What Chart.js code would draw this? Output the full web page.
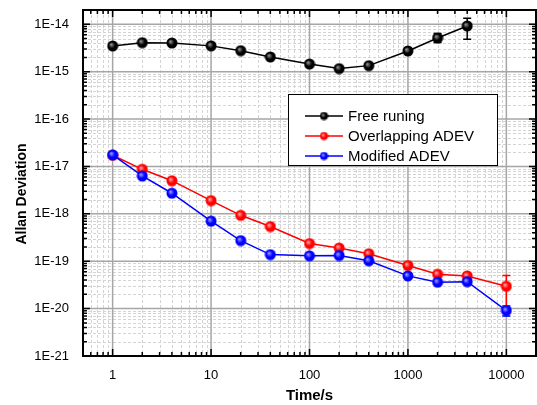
<!DOCTYPE html>
<html>
<head>
  <meta charset="UTF-8">
  <title>Allan Deviation</title>
  <script src="https://cdn.jsdelivr.net/npm/chart.js"></script>
  <style>
    html, body { margin: 0; padding: 0; background: #fff; }
    #wrap { width: 537px; height: 405px; }
  </style>
</head>
<body>
  <div id="wrap"><canvas id="adev" width="537" height="405"></canvas></div>

  <script>
    // averaging times (s)
    const taus = [1, 2, 4, 10, 20, 40, 100, 200, 400, 1000, 2000, 4000, 10000];

    // series values
    const freeRun     = [3.48e-15, 4.09e-15, 4.02e-15, 3.5e-15, 2.77e-15, 2.04e-15, 1.45e-15, 1.16e-15, 1.34e-15, 2.73e-15, 5.14e-15, 9.2e-15, null];
    const overlapping = [1.72e-17, 8.7e-18, 5.0e-18, 1.9e-18, 9.3e-19, 5.4e-19, 2.36e-19, 1.9e-19, 1.44e-19, 8.1e-20, 5.3e-20, 4.9e-20, 2.96e-20];
    const modified    = [1.75e-17, 6.3e-18, 2.72e-18, 7.0e-19, 2.72e-19, 1.38e-19, 1.3e-19, 1.32e-19, 1.02e-19, 4.9e-20, 3.6e-20, 3.7e-20, 9.1e-21];

    // error bars (only the ones wider than the marker)
    const freeErrLo = [null, null, null, null, null, null, null, null, null, null, 4.1e-15, 4.8e-15, null];
    const freeErrHi = [null, null, null, null, null, null, null, null, null, null, 6.4e-15, 1.34e-14, null];
    const overErrLo = [null, null, null, null, null, null, null, null, null, null, null, 4.3e-20, 1.0e-20];
    const overErrHi = [null, null, null, null, null, null, null, null, null, null, null, 5.6e-20, 5.0e-20];
    const modErrLo  = [null, null, null, null, null, null, null, null, null, null, null, null, 7.0e-21];
    const modErrHi  = [null, null, null, null, null, null, null, null, null, null, null, null, 1.13e-20];

    // tick labels
    const xTickValues = [1, 10, 100, 1000, 10000];
    const xTickLabels = ['1', '10', '100', '1000', '10000'];
    const yTickValues = [1e-21, 1e-20, 1e-19, 1e-18, 1e-17, 1e-16, 1e-15, 1e-14];
    const yTickLabels = ['1E-21', '1E-20', '1E-19', '1E-18', '1E-17', '1E-16', '1E-15', '1E-14'];

    const seriesNames = ['Free runing', 'Overlapping ADEV', 'Modified ADEV'];
    const yTitle = 'Allan Deviation';

    const FONT = '"Liberation Sans", Arial, sans-serif';

    // shaded ball marker
    function ball(color, light, r) {
      const s = Math.ceil(r * 2) + 1;
      const c = document.createElement('canvas');
      c.width = c.height = s;
      const g = c.getContext('2d');
      const m = s / 2;
      const grad = g.createRadialGradient(m - r * 0.3, m - r * 0.3, 0.2, m, m, r);
      grad.addColorStop(0, light);
      grad.addColorStop(0.55, color);
      grad.addColorStop(1, color);
      g.fillStyle = grad;
      g.beginPath();
      g.arc(m, m, r, 0, Math.PI * 2);
      g.fill();
      return c;
    }

    const colors = ['#000000', '#ff0000', '#0000ff'];
    const lights = ['#9a9a9a', '#ffb0b0', '#a0a0ff'];
    const markers = colors.map((c, i) => ball(c, lights[i], 5.5));
    const legendMarkers = colors.map((c, i) => ball(c, lights[i], 4));

    function pts(vals) {
      return taus.map((t, i) => ({ x: t, y: vals[i] }));
    }

    // minor / major positions of a log axis
    function logGrid(min, max) {
      const out = [];
      for (let e = Math.floor(Math.log10(min)); e <= Math.ceil(Math.log10(max)); e++) {
        for (let k = 1; k <= 9; k++) {
          const v = k * Math.pow(10, e);
          if (v >= min * 0.999 && v <= max * 1.001) out.push({ v: v, major: k === 1 });
        }
      }
      return out;
    }

    const framePlugin = {
      id: 'frame',
      beforeDatasetsDraw(chart) {
        const { ctx, chartArea: a, scales: { x, y } } = chart;
        ctx.save();
        // minor grid
        ctx.lineWidth = 1;
        ctx.strokeStyle = '#d4d4d4';
        ctx.setLineDash([3, 2]);
        logGrid(x.min, x.max).filter(g => !g.major).forEach(g => {
          const px = Math.round(x.getPixelForValue(g.v)) + 0.5;
          ctx.beginPath(); ctx.moveTo(px, a.top); ctx.lineTo(px, a.bottom); ctx.stroke();
        });
        logGrid(y.min, y.max).filter(g => !g.major).forEach(g => {
          const py = Math.round(y.getPixelForValue(g.v)) + 0.5;
          ctx.beginPath(); ctx.moveTo(a.left, py); ctx.lineTo(a.right, py); ctx.stroke();
        });
        // major grid
        ctx.setLineDash([]);
        ctx.strokeStyle = '#a6a6a6';
        ctx.lineWidth = 1.5;
        logGrid(x.min, x.max).filter(g => g.major).forEach(g => {
          const px = x.getPixelForValue(g.v);
          ctx.beginPath(); ctx.moveTo(px, a.top); ctx.lineTo(px, a.bottom); ctx.stroke();
        });
        logGrid(y.min, y.max).filter(g => g.major).forEach(g => {
          const py = y.getPixelForValue(g.v);
          ctx.beginPath(); ctx.moveTo(a.left, py); ctx.lineTo(a.right, py); ctx.stroke();
        });

        // error bars, drawn under the markers
        ctx.lineWidth = 1.5;
        const errs = [[freeErrLo, freeErrHi], [overErrLo, overErrHi], [modErrLo, modErrHi]];
        errs.forEach((pair, d) => {
          ctx.strokeStyle = colors[d];
          taus.forEach((t, i) => {
            if (pair[0][i] == null) return;
            const px = x.getPixelForValue(t);
            const lo = y.getPixelForValue(pair[0][i]);
            const hi = y.getPixelForValue(pair[1][i]);
            ctx.beginPath();
            ctx.moveTo(px, lo); ctx.lineTo(px, hi);
            ctx.moveTo(px - 4, lo); ctx.lineTo(px + 4, lo);
            ctx.moveTo(px - 4, hi); ctx.lineTo(px + 4, hi);
            ctx.stroke();
          });
        });
        ctx.restore();
      },
      afterDatasetsDraw(chart) {
        const { ctx, chartArea: a, scales: { x, y } } = chart;
        ctx.save();
        ctx.strokeStyle = '#000';
        // inward ticks on all four sides
        ctx.lineWidth = 1.5;
        logGrid(x.min, x.max).forEach(g => {
          const px = x.getPixelForValue(g.v);
          const len = g.major ? 7 : 4;
          ctx.beginPath();
          ctx.moveTo(px, a.bottom); ctx.lineTo(px, a.bottom - len);
          ctx.moveTo(px, a.top); ctx.lineTo(px, a.top + len);
          ctx.stroke();
        });
        logGrid(y.min, y.max).forEach(g => {
          const py = y.getPixelForValue(g.v);
          const len = g.major ? 7 : 4;
          ctx.beginPath();
          ctx.moveTo(a.left, py); ctx.lineTo(a.left + len, py);
          ctx.moveTo(a.right, py); ctx.lineTo(a.right - len, py);
          ctx.stroke();
        });
        // frame
        ctx.lineWidth = 2;
        ctx.strokeRect(a.left, a.top, a.right - a.left, a.bottom - a.top);

        // y axis title
        ctx.save();
        ctx.translate(22, 194);
        ctx.rotate(-Math.PI / 2);
        ctx.fillStyle = '#000';
        ctx.font = 'bold 14px ' + FONT;
        ctx.textAlign = 'center';
        ctx.textBaseline = 'middle';
        ctx.fillText(yTitle, 0, 0);
        ctx.restore();

        // legend box
        const bx = 288, by = 94, bw = 209, bh = 71;
        ctx.fillStyle = '#fff';
        ctx.fillRect(bx, by, bw, bh);
        ctx.lineWidth = 1;
        ctx.strokeRect(bx + 0.5, by + 0.5, bw, bh);
        ctx.font = '15px ' + FONT;
        ctx.textBaseline = 'middle';
        chart.data.datasets.forEach((ds, i) => {
          const ly = by + 22 + i * 20;
          ctx.strokeStyle = ds.borderColor;
          ctx.lineWidth = 1.5;
          ctx.beginPath(); ctx.moveTo(bx + 17, ly); ctx.lineTo(bx + 55, ly); ctx.stroke();
          const m = legendMarkers[i];
          ctx.drawImage(m, bx + 36 - m.width / 2, ly - m.height / 2);
          ctx.fillStyle = '#000';
          ctx.fillText(ds.label, bx + 60, ly + 1);
        });
        ctx.restore();
      }
    };

    const ctx = document.getElementById('adev').getContext('2d');
    new Chart(ctx, {
      type: 'line',
      data: {
        datasets: [
          { label: seriesNames[0], data: pts(freeRun), order: 3 },
          { label: seriesNames[1], data: pts(overlapping), order: 2 },
          { label: seriesNames[2], data: pts(modified), order: 1 }
        ].map((ds, i) => Object.assign(ds, {
          borderColor: colors[i],
          backgroundColor: colors[i],
          borderWidth: 1.5,
          pointStyle: markers[i],
          pointRadius: 5,
          tension: 0,
          fill: false
        }))
      },
      options: {
        responsive: false,
        animation: false,
        events: [],
        layout: { autoPadding: false, padding: { left: 0, top: 10, right: 1, bottom: 0 } },
        plugins: { legend: { display: false }, tooltip: { enabled: false } },
        scales: {
          x: {
            type: 'logarithmic',
            min: 0.5,
            max: 20000,
            afterBuildTicks: s => { s.ticks = xTickValues.map(v => ({ value: v })); },
            afterFit: s => { s.height = 49; s.paddingLeft = 0; s.paddingRight = 0; },
            grid: { display: false },
            border: { display: false },
            ticks: {
              autoSkip: false,
              maxRotation: 0,
              padding: 4,
              color: '#000',
              font: { family: FONT, size: 13 },
              callback: v => xTickLabels[xTickValues.indexOf(v)]
            },
            title: {
              display: true,
              text: 'Time/s',
              color: '#000',
              font: { family: FONT, size: 15, weight: 'bold' },
              padding: { top: 0, bottom: 0 }
            }
          },
          y: {
            type: 'logarithmic',
            min: 1e-21,
            max: 2e-14,
            afterBuildTicks: s => { s.ticks = yTickValues.map(v => ({ value: v })); },
            afterFit: s => { s.width = 83; s.paddingTop = 0; s.paddingBottom = 0; },
            grid: { display: false },
            border: { display: false },
            ticks: {
              autoSkip: false,
              padding: 6,
              color: '#000',
              font: { family: FONT, size: 13 },
              callback: v => yTickLabels[yTickValues.indexOf(v)]
            },
            title: { display: false }
          }
        }
      },
      plugins: [framePlugin]
    });
  </script>
</body>
</html>
